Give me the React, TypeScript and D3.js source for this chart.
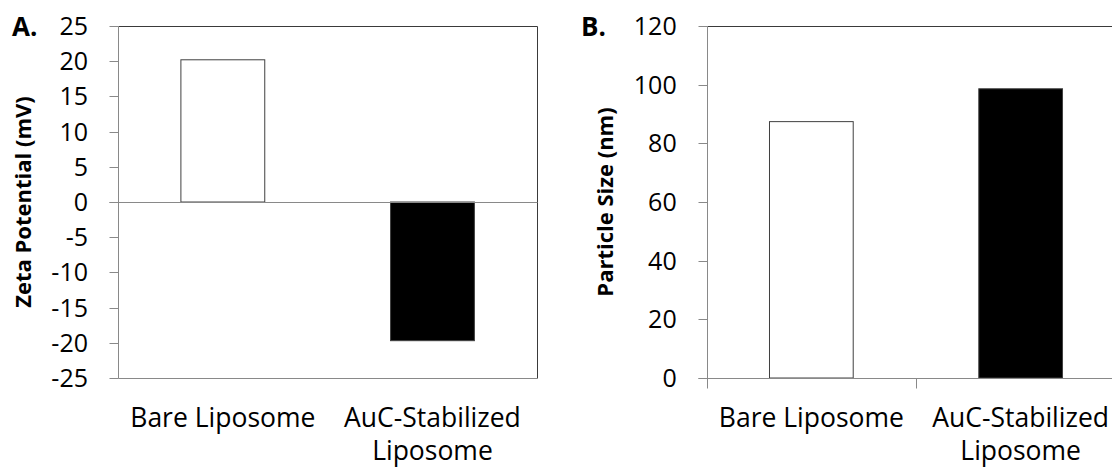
import React from "react";
import * as d3 from "d3";

// Chart data
const categories = ["Bare Liposome", "AuC-Stabilized Liposome"];
const zetaPotential = [20.2, -19.7];
const particleSize = [87.4, 98.6];
const zetaTicks = [25, 20, 15, 10, 5, 0, -5, -10, -15, -20, -25];
const sizeTicks = [120, 100, 80, 60, 40, 20, 0];
const barFills = ["#ffffff", "#000000"];

const W = 1112;
const H = 469;
const FONT = "'Open Sans', 'Noto Sans', sans-serif";
const AXIS_GREY = "#898989";
const FRAME_DARK = "#3a3a3a";

const measureCtx: CanvasRenderingContext2D | null =
  typeof document !== "undefined" ? document.createElement("canvas").getContext("2d") : null;

// Greedy word wrap of a category label into the band width
function wrapLabel(text: string, maxWidth: number, font: string): string[] {
  if (!measureCtx) return [text];
  measureCtx.font = font;
  const words = text.split(" ");
  const lines: string[] = [];
  let line = "";
  for (const w of words) {
    const trial = line ? line + " " + w : w;
    if (line && measureCtx.measureText(trial).width > maxWidth) {
      lines.push(line);
      line = w;
    } else {
      line = trial;
    }
  }
  if (line) lines.push(line);
  return lines;
}

type PanelProps = {
  left: number;
  right: number;
  top: number;
  bottom: number;
  domain: [number, number];
  ticks: number[];
  values: number[];
  title: string;
  letter: string;
  letterX: number;
  titleX: number;
  categoryTicks: boolean;
};

function Panel(p: PanelProps) {
  const x = d3.scaleBand<string>().domain(categories).range([p.left, p.right]).padding(0);
  const y = d3.scaleLinear().domain(p.domain).range([p.bottom, p.top]);
  const bw = x.bandwidth();
  const barW = bw / 2.5;
  const crisp = (v: number) => Math.round(v) + 0.5;
  const y0 = crisp(y(0));
  const L = crisp(p.left);
  const R = crisp(p.right);
  const T = crisp(p.top);
  const B = crisp(p.bottom);
  const tickFont = `25px ${FONT}`;
  const catFont = `26.5px ${FONT}`;

  return (
    <g>
      {/* plot frame */}
      <line x1={L} x2={R} y1={T} y2={T} stroke={FRAME_DARK} strokeWidth={1} />
      <line x1={R} x2={R} y1={T} y2={B} stroke={FRAME_DARK} strokeWidth={1} />
      <line x1={L} x2={R} y1={B} y2={B} stroke={AXIS_GREY} strokeWidth={1} />

      {/* bars */}
      {categories.map((c, i) => {
        const v = p.values[i];
        const cx = (x(c) as number) + bw / 2;
        const yTop = y(Math.max(0, v));
        const yBot = y(Math.min(0, v));
        return (
          <rect
            key={c}
            x={cx - barW / 2}
            y={yTop}
            width={barW}
            height={yBot - yTop}
            fill={barFills[i]}
            stroke="#404040"
            strokeWidth={1}
          />
        );
      })}

      {/* value axis */}
      <line x1={L} x2={L} y1={T} y2={B} stroke={AXIS_GREY} strokeWidth={1} />
      {p.ticks.map((t) => (
        <g key={t}>
          <line x1={L - 9} x2={L} y1={crisp(y(t))} y2={crisp(y(t))} stroke={AXIS_GREY} strokeWidth={1} />
          <text
            x={p.left - 30}
            y={y(t)}
            dy="0.36em"
            textAnchor="end"
            style={{ font: tickFont }}
            fill="#000"
          >
            {t}
          </text>
        </g>
      ))}

      {/* category axis */}
      <line x1={L - 9} x2={R} y1={y0} y2={y0} stroke={AXIS_GREY} strokeWidth={1} />
      {p.categoryTicks &&
        [...categories.map((c) => x(c) as number), p.right].map((tx, i) => (
          <line key={i} x1={crisp(tx)} x2={crisp(tx)} y1={y0} y2={y0 + 10} stroke={AXIS_GREY} strokeWidth={1} />
        ))}
      {categories.map((c) => {
        const lines = wrapLabel(c, bw - 10, catFont);
        const cx = (x(c) as number) + bw / 2;
        return (
          <text key={c} x={cx} y={426.7} textAnchor="middle" style={{ font: catFont }} fill="#000">
            {lines.map((ln, k) => (
              <tspan key={k} x={cx} dy={k === 0 ? 0 : 33.3}>
                {ln}
              </tspan>
            ))}
          </text>
        );
      })}

      {/* axis title */}
      <text
        transform={`translate(${p.titleX},${(p.top + p.bottom) / 2}) rotate(-90)`}
        textAnchor="middle"
        style={{ font: `bold 22px ${FONT}` }}
        fill="#000"
      >
        {p.title}
      </text>

      {/* panel letter */}
      <text x={p.letterX} y={36} style={{ font: `bold 26px ${FONT}` }} fill="#000">
        {p.letter}
      </text>
    </g>
  );
}

export default function App() {
  return (
    <svg
      width={W}
      height={H}
      viewBox={`0 0 ${W} ${H}`}
      style={{ position: "absolute", left: 0, top: 0, display: "block", background: "#fff" }}
    >
      <rect width={W} height={H} fill="#fff" />
      <Panel
        left={118}
        right={537.3}
        top={26}
        bottom={378}
        domain={[-25, 25]}
        ticks={zetaTicks}
        values={zetaPotential}
        title="Zeta Potential (mV)"
        letter="A."
        letterX={12}
        titleX={31}
        categoryTicks={false}
      />
      <Panel
        left={706.7}
        right={1125.3}
        top={26}
        bottom={378}
        domain={[0, 120]}
        ticks={sizeTicks}
        values={particleSize}
        title="Particle Size (nm)"
        letter="B."
        letterX={581}
        titleX={613}
        categoryTicks={true}
      />
    </svg>
  );
}
